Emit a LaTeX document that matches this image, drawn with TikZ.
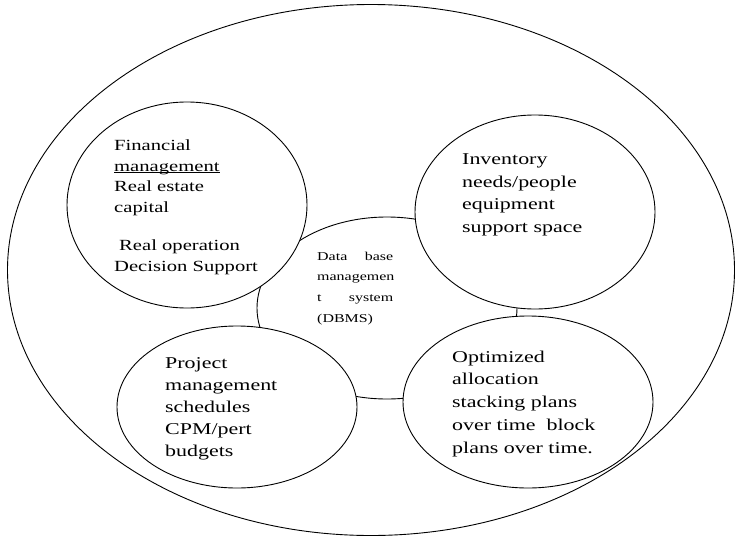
\documentclass[tikz,border=0pt]{standalone}
\usepackage{fontspec}
\setmainfont{Liberation Serif}[FakeStretch=1.33]
\usetikzlibrary{shapes.geometric}
\newcommand\myuline[1]{\setbox0\hbox{#1}\rlap{\rule[-1.6pt]{\wd0}{0.6pt}}#1}
\begin{document}
\begin{tikzpicture}[x=1pt,y=-1pt,
  bubble/.style={ellipse, draw=black, line width=0.9pt, fill=white, inner sep=0pt, outer sep=0pt},
  txt/.style={anchor=north west, inner sep=0pt, align=left}]
\useasboundingbox (0,0) rectangle (736,541);
\node[bubble, minimum width=727, minimum height=531] (outer) at (371,270) {};
\node[bubble, minimum width=260, minimum height=182] (dbms) at (387,308) {};
\node[bubble, minimum width=240, minimum height=206] (fin) at (187,205) {};
\node[bubble, minimum width=240, minimum height=194] (inv) at (535,212) {};
\node[bubble, minimum width=250, minimum height=172] (opt) at (528,402) {};
\node[bubble, minimum width=240, minimum height=162] (proj) at (237,407) {};
\node[txt, font=\fontsize{15.5}{20.5}\selectfont] (fintext) at (114,140)
  {Financial\\\myuline{management}\\Real estate\\capital\\[18pt]\hspace{5pt}Real operation\\Decision Support};
\node[txt, font=\fontsize{16.5}{22.7}\selectfont] (invtext) at (462,153.5)
  {Inventory\\needs/people\\equipment\\support space};
\node[txt, font=\fontsize{16.5}{22.8}\selectfont] (opttext) at (452,350.5)
  {Optimized\\allocation\\stacking plans\\over time\ \ block\\plans over time.};
\node[txt, font=\fontsize{16.5}{22}\selectfont] (projtext) at (165,357.5)
  {Project\\management\\schedules\\CPM/pert\\budgets};
\node[txt, font=\fontsize{12}{20.7}\selectfont] (dbmstext) at (317,251.5)
  {\parbox[t]{76pt}{Data\hfill base\\managemen\\t\hfill system\\(DBMS)}};
\end{tikzpicture}
\end{document}
